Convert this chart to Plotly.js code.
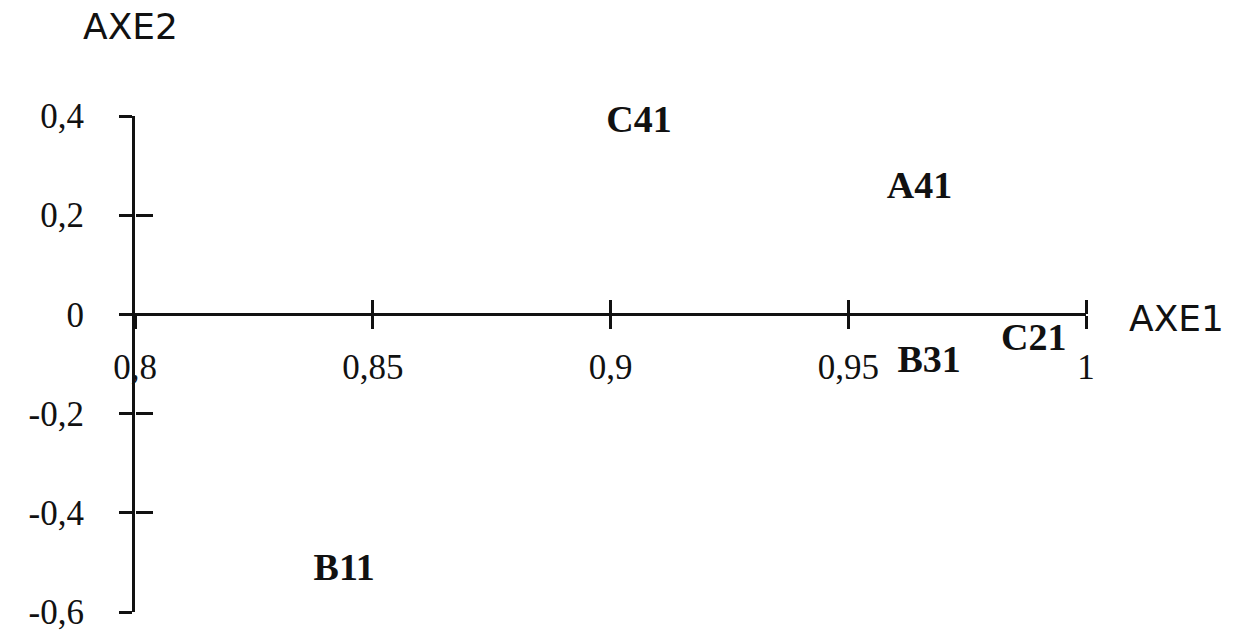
<!DOCTYPE html>
<html>
<head>
<meta charset="utf-8">
<script src="https://cdn.plot.ly/plotly-3.0.1.min.js"></script>
<style>html,body{margin:0;padding:0;background:#fff;}#chart{width:1233px;height:633px;}</style>
</head>
<body>
<div id="chart"></div>
<script>
// Data
const pointLabels = ["C41", "A41", "B31", "C21", "B11"];
const axe1Values = [0.906, 0.965, 0.967, 0.989, 0.844];
const axe2Values = [0.386, 0.253, -0.096, -0.052, -0.517];

const xTickVals = [0.8, 0.85, 0.9, 0.95, 1];
const xTickText = ["0,8", "0,85", "0,9", "0,95", "1"];
const yTickVals = [0.4, 0.2, 0, -0.2, -0.4, -0.6];
const yTickText = ["0,4", "0,2", "0", "-0,2", "-0,4", "-0,6"];

const xTitle = "AXE1";
const yTitle = "AXE2";

const serif = "Liberation Serif, Times New Roman, serif";
const sans = "DejaVu Sans, sans-serif";

const traces = [
  {
    type: "scatter",
    mode: "text",
    x: axe1Values,
    y: axe2Values,
    text: pointLabels,
    textposition: "middle center",
    textfont: {family: serif, size: 38, color: "#111", weight: "bold"},
    cliponaxis: false,
    hoverinfo: "skip",
    showlegend: false,
    xaxis: "x",
    yaxis: "y"
  },
  {
    type: "scatter",
    mode: "none",
    x: [],
    y: [],
    showlegend: false,
    hoverinfo: "skip",
    xaxis: "x2",
    yaxis: "y2"
  }
];

const layout = {
  width: 1233,
  height: 633,
  margin: {l: 135, r: 147, t: 116, b: 21},
  paper_bgcolor: "#ffffff",
  plot_bgcolor: "#ffffff",
  showlegend: false,
  xaxis: {
    range: [0.8, 1],
    anchor: "free",
    position: 0.6,
    showline: true, linewidth: 3, linecolor: "#111",
    ticks: "outside", ticklen: 13, tickwidth: 3, tickcolor: "#111",
    tickvals: xTickVals, ticktext: xTickText,
    tickfont: {family: serif, size: 35, color: "#111"},
    ticklabelstandoff: 8,
    showgrid: false, zeroline: false, fixedrange: true
  },
  xaxis2: {
    range: [0.8, 1],
    overlaying: "x",
    anchor: "free",
    position: 0.6,
    side: "top",
    showline: false,
    ticks: "outside", ticklen: 14, tickwidth: 3, tickcolor: "#111",
    tickvals: xTickVals.slice(1),
    showticklabels: false,
    showgrid: false, zeroline: false, fixedrange: true
  },
  yaxis: {
    range: [-0.6, 0.4],
    anchor: "x",
    showline: true, linewidth: 3, linecolor: "#111",
    ticks: "outside", ticklen: 13, tickwidth: 3, tickcolor: "#111",
    tickvals: yTickVals, ticktext: yTickText,
    tickfont: {family: serif, size: 35, color: "#111"},
    ticklabelstandoff: 28,
    showgrid: false, zeroline: false, fixedrange: true
  },
  yaxis2: {
    range: [-0.6, 0.4],
    overlaying: "y",
    anchor: "free",
    position: 0,
    side: "left",
    showline: false,
    ticks: "inside", ticklen: 17, tickwidth: 3, tickcolor: "#111",
    tickvals: yTickVals,
    showticklabels: false,
    showgrid: false, zeroline: false, fixedrange: true
  },
  annotations: [
    {
      text: yTitle, xref: "paper", yref: "paper",
      x: -0.005, y: 1.18, xanchor: "center", yanchor: "middle",
      showarrow: false, font: {family: sans, size: 36, color: "#111"}
    },
    {
      text: xTitle, xref: "paper", yref: "y",
      x: 1.095, y: 0, yshift: -4, xanchor: "center", yanchor: "middle",
      showarrow: false, font: {family: sans, size: 36, color: "#111"}
    }
  ]
};

Plotly.newPlot("chart", traces, layout, {displayModeBar: false, staticPlot: true});
</script>
</body>
</html>
